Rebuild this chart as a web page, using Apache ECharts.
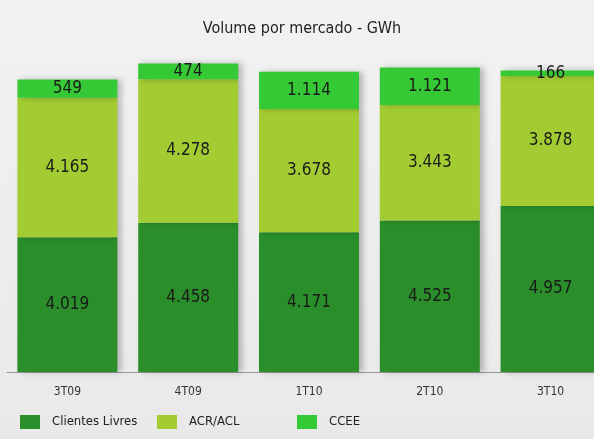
<!DOCTYPE html>
<html>
<head>
<meta charset="utf-8">
<script src="https://cdn.jsdelivr.net/npm/echarts@6/dist/echarts.min.js"></script>
<style>
  html, body { margin: 0; padding: 0; overflow: hidden; background: #ededed; }
  /* a última barra é cortada pela borda direita, por isso o gráfico é mais largo que a janela */
  #main { width: 620px; height: 439px; background: linear-gradient(#f2f2f2, #e9e9e9); }
</style>
</head>
<body>
<div id="main"></div>
<script>
// dados
var categorias = ['3T09', '4T09', '1T10', '2T10', '3T10'];
var clientesLivres = [4019, 4458, 4171, 4525, 4957];
var acrAcl = [4165, 4278, 3678, 3443, 3878];
var ccee = [549, 474, 1114, 1121, 166];

var fonte = '"Liberation Sans Narrow", "DejaVu Sans Condensed", sans-serif';

// 4019 -> "4.019"
function fmt(p) {
  return String(p.value).replace(/\B(?=(\d{3})+(?!\d))/g, '.');
}

var chart = echarts.init(document.getElementById('main'));

function serie(nome, dados, cor) {
  return {
    name: nome,
    type: 'bar',
    stack: 'total',
    barWidth: 100,
    data: dados,
    itemStyle: {
      color: cor,
      shadowBlur: 6,
      shadowOffsetX: 4,
      shadowColor: 'rgba(0,0,0,0.25)'
    },
    label: {
      show: true,
      position: 'inside',
      formatter: fmt,
      color: '#1a1a1a',
      fontSize: 17,
      fontFamily: fonte
    }
  };
}

function legenda(nome, x) {
  return {
    data: [nome],
    left: x,
    top: 410,
    icon: 'rect',
    itemWidth: 20,
    itemHeight: 14,
    textStyle: { fontSize: 13, color: '#222', fontFamily: fonte, padding: [0, 0, 0, 7] }
  };
}

var option = {
  title: {
    text: 'Volume por mercado - GWh',
    left: 297,
    textAlign: 'center',
    top: 16,
    textStyle: { fontSize: 16, fontWeight: 'normal', color: '#222', fontFamily: fonte }
  },
  legend: [
    legenda('Clientes Livres', 15),
    legenda('ACR/ACL', 152),
    legenda('CCEE', 292)
  ],
  grid: { left: 7, top: 60, width: 604, height: 312 },
  xAxis: {
    type: 'category',
    data: categorias,
    axisLine: { lineStyle: { color: '#999', width: 1 } },
    axisTick: { show: false },
    axisLabel: { color: '#333', fontSize: 12, fontFamily: fonte, margin: 14 }
  },
  yAxis: {
    type: 'value',
    min: 0,
    max: 9313,
    show: false,
    splitLine: { show: false }
  },
  series: [
    serie('Clientes Livres', clientesLivres, '#2a8f2a'),
    serie('ACR/ACL', acrAcl, '#a2cc32'),
    serie('CCEE', ccee, '#35c935')
  ]
};

chart.setOption(option);
</script>
</body>
</html>
